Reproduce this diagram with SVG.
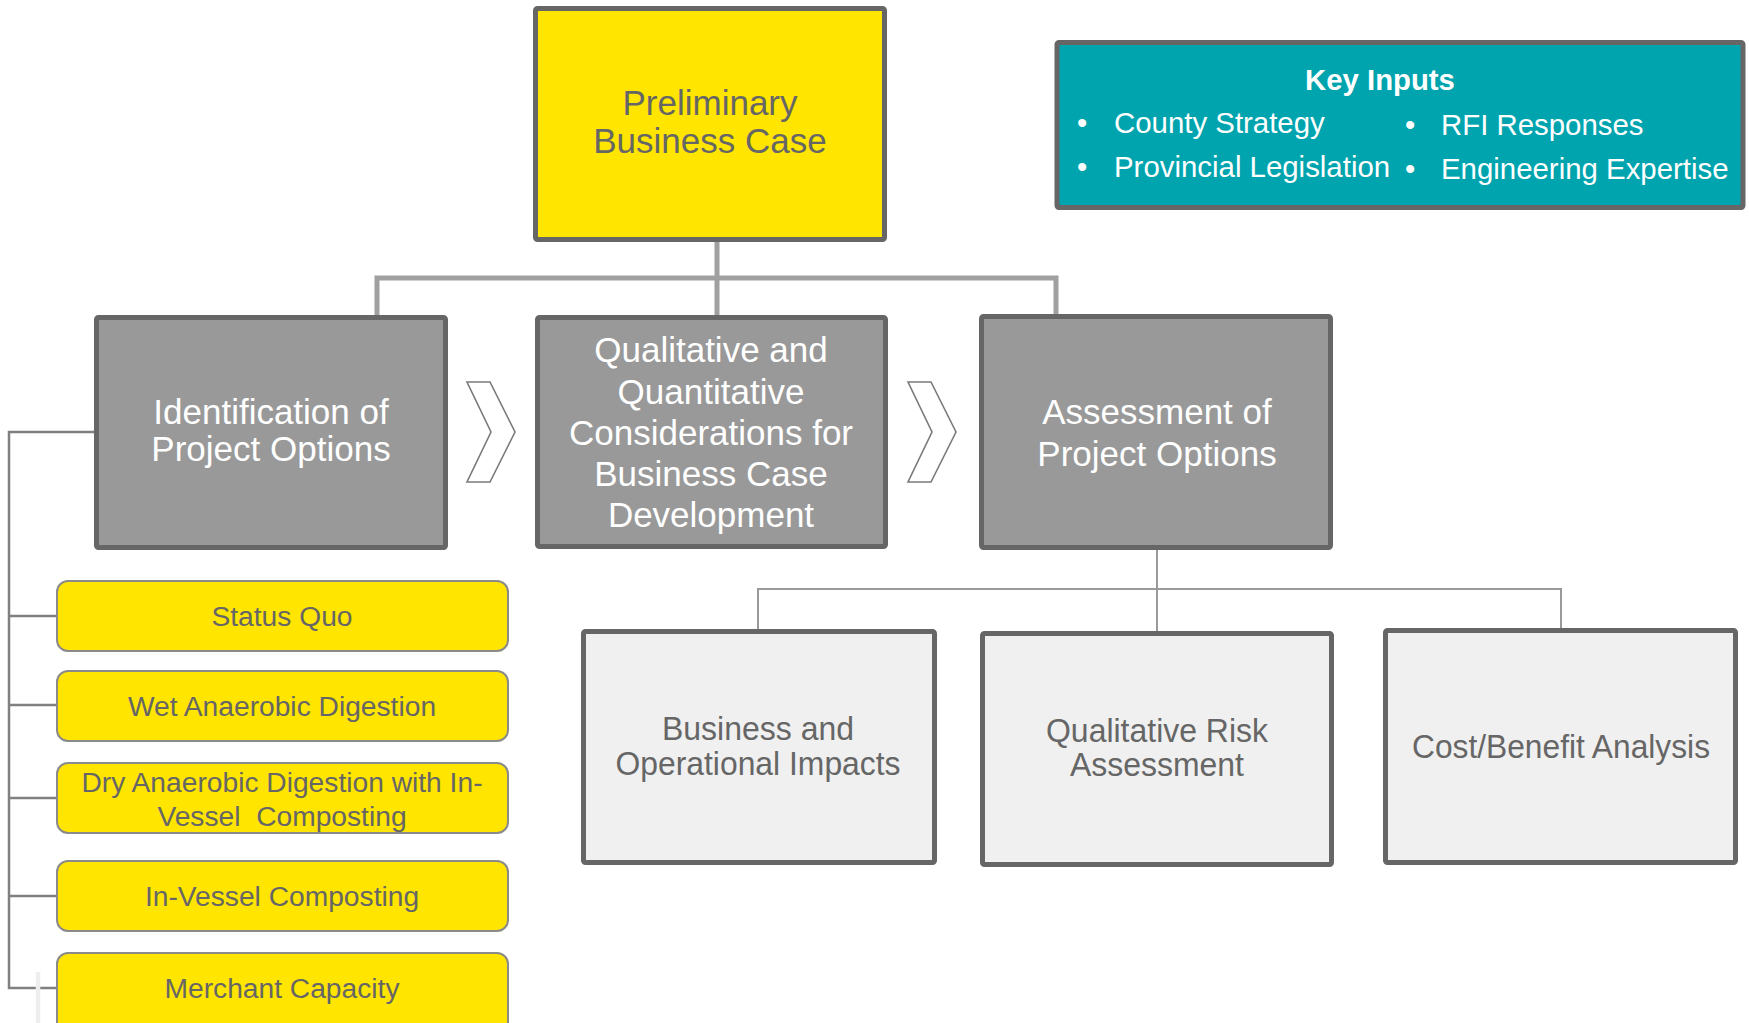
<svg xmlns="http://www.w3.org/2000/svg" width="1749" height="1023" viewBox="0 0 1749 1023">
  <style>
    text { font-family: "Liberation Sans", Arial, sans-serif; }
    .box { stroke: #666666; stroke-width: 5; }
    .top { fill: #FFE500; }
    .step { fill: #999999; }
    .sub { fill: #F0F0F0; }
    .pill { fill: #FFE500; stroke: #8a8a8a; stroke-width: 2; }
    .key { fill: #00A4AE; }
    .dark { fill: #666666; text-anchor: middle; }
    .light { fill: #FFFFFF; text-anchor: middle; }
    .t35 { font-size: 35px; }
    .t28 { font-size: 28.2px; }
    .t33 { font-size: 33px; }
    .ki { fill: #FFFFFF; font-size: 29.4px; }
    .trunk { fill: none; stroke: #A0A0A0; stroke-width: 5; }
    .thin { fill: none; stroke: #9A9A9A; stroke-width: 2; }
    .bracket { fill: none; stroke: #808080; stroke-width: 2.5; }
    .chev { fill: #FFFFFF; stroke: #7A7A7A; stroke-width: 1.6; stroke-linejoin: miter; }
  </style>

  <!-- connectors -->
  <g id="connectors">
    <path class="trunk" d="M717,242 V316 M377,316 V278 H1056 V316"/>
    <path class="thin" d="M1157,550 V632 M758,632 V589 H1561 V630"/>
    <path class="bracket" d="M96,432 H9 V988 H57 M9,616 H57 M9,705 H57 M9,798 H57 M9,896 H57"/>
    <line x1="38" y1="972" x2="38" y2="1023" stroke="#EEEEEE" stroke-width="4.5"/>
    <polygon class="chev" points="467,382 490,382 515,432 490,482 467,482 491,432"/>
    <polygon class="chev" points="908,382 931,382 956,432 931,482 908,482 932,432"/>
  </g>

  <!-- main stages -->
  <g id="preliminary-business-case">
    <rect class="box top" x="535.5" y="8.5" width="349" height="231" rx="2"/>
    <text class="dark t35" x="710" y="115">Preliminary</text>
    <text class="dark t35" x="710" y="153">Business Case</text>
  </g>

  <g id="key-inputs">
    <rect class="box key" x="1057" y="42.5" width="686" height="165" rx="2"/>
    <text x="1380" y="90" fill="#FFFFFF" font-size="29.3" font-weight="bold" text-anchor="middle">Key Inputs</text>
    <text class="ki" x="1077" y="133">•</text>
    <text class="ki" x="1114" y="133">County Strategy</text>
    <text class="ki" x="1077" y="177">•</text>
    <text class="ki" x="1114" y="177">Provincial Legislation</text>
    <text class="ki" x="1405" y="135">•</text>
    <text class="ki" x="1441" y="135">RFI Responses</text>
    <text class="ki" x="1405" y="179">•</text>
    <text class="ki" x="1441" y="179">Engineering Expertise</text>
  </g>

  <g id="identification">
    <rect class="box step" x="96.5" y="317.5" width="349" height="230" rx="2"/>
    <text class="light t35" x="271" y="424">Identification of</text>
    <text class="light t35" x="271" y="461">Project Options</text>
  </g>

  <g id="considerations">
    <rect class="box step" x="537.5" y="317.5" width="348" height="229" rx="2"/>
    <text class="light t35" x="711" y="362">Qualitative and</text>
    <text class="light t35" x="711" y="404">Quantitative</text>
    <text class="light t35" x="711" y="445">Considerations for</text>
    <text class="light t35" x="711" y="486">Business Case</text>
    <text class="light t35" x="711" y="527">Development</text>
  </g>

  <g id="assessment">
    <rect class="box step" x="981.5" y="316.5" width="349" height="231" rx="2"/>
    <text class="light t35" x="1157" y="424">Assessment of</text>
    <text class="light t35" x="1157" y="466">Project Options</text>
  </g>

  <!-- assessment outputs -->
  <g id="business-impacts">
    <rect class="box sub" x="583.5" y="631.5" width="351" height="231" rx="2"/>
    <text class="dark t33" x="758" y="740" textLength="192" lengthAdjust="spacingAndGlyphs">Business and</text>
    <text class="dark t33" x="758" y="775" textLength="285" lengthAdjust="spacingAndGlyphs">Operational Impacts</text>
  </g>

  <g id="risk-assessment">
    <rect class="box sub" x="982.5" y="633.5" width="349" height="231" rx="2"/>
    <text class="dark t33" x="1157" y="742" textLength="222" lengthAdjust="spacingAndGlyphs">Qualitative Risk</text>
    <text class="dark t33" x="1157" y="776" textLength="174" lengthAdjust="spacingAndGlyphs">Assessment</text>
  </g>

  <g id="cost-benefit">
    <rect class="box sub" x="1385.5" y="630.5" width="350" height="232" rx="2"/>
    <text class="dark t33" x="1561" y="758" textLength="298" lengthAdjust="spacingAndGlyphs">Cost/Benefit Analysis</text>
  </g>

  <!-- project options -->
  <g id="status-quo">
    <rect class="pill" x="57" y="581" width="451" height="70" rx="11"/>
    <text class="dark t28" x="282" y="626">Status Quo</text>
  </g>
  <g id="wet-ad">
    <rect class="pill" x="57" y="671" width="451" height="70" rx="11"/>
    <text class="dark t28" x="282" y="716">Wet Anaerobic Digestion</text>
  </g>
  <g id="dry-ad">
    <rect class="pill" x="57" y="763" width="451" height="70" rx="11"/>
    <text class="dark t28" x="282" y="792">Dry Anaerobic Digestion with In-</text>
    <text class="dark t28" x="282" y="826" xml:space="preserve">Vessel  Composting</text>
  </g>
  <g id="in-vessel">
    <rect class="pill" x="57" y="861" width="451" height="70" rx="11"/>
    <text class="dark t28" x="282" y="906">In-Vessel Composting</text>
  </g>
  <g id="merchant">
    <rect class="pill" x="57" y="953" width="451" height="80" rx="11"/>
    <text class="dark t28" x="282" y="998">Merchant Capacity</text>
  </g>
</svg>
